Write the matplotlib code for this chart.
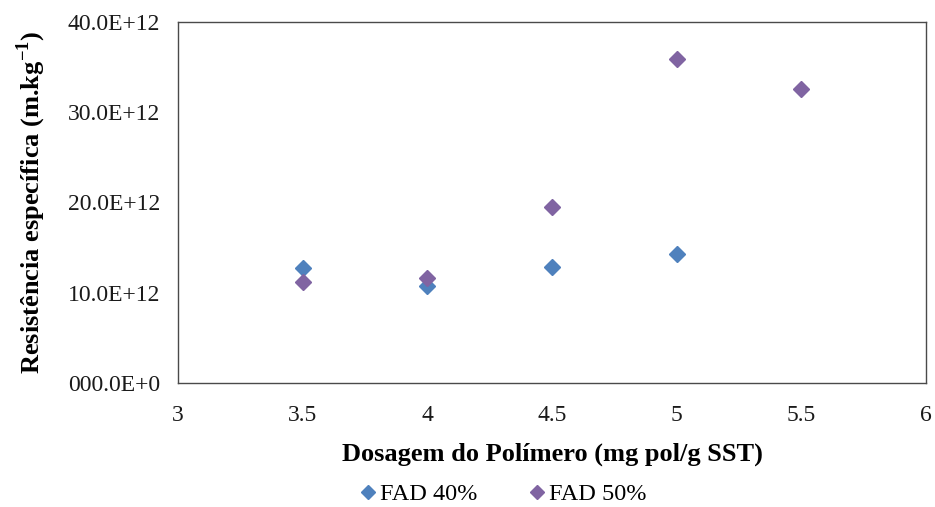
import matplotlib
matplotlib.use("Agg")
import matplotlib.pyplot as plt

plt.rcParams["font.family"] = ["Liberation Serif", "DejaVu Serif"]
plt.rcParams["mathtext.fontset"] = "custom"
plt.rcParams["mathtext.rm"] = "Liberation Serif:bold"
plt.rcParams["mathtext.bf"] = "Liberation Serif:bold"

# Dosage (mg pol/g SST) and specific resistance (m/kg)
dose_40 = [3.5, 4.0, 4.5, 5.0]
res_40 = [12.7e12, 10.8e12, 12.9e12, 14.3e12]
dose_50 = [3.5, 4.0, 4.5, 5.0, 5.5]
res_50 = [11.2e12, 11.6e12, 19.5e12, 35.9e12, 32.6e12]

x_ticks = [3, 3.5, 4, 4.5, 5, 5.5, 6]
x_tick_labels = ["3", "3.5", "4", "4.5", "5", "5.5", "6"]
y_ticks = [0, 10e12, 20e12, 30e12, 40e12]
y_tick_labels = ["000.0E+0", "10.0E+12", "20.0E+12", "30.0E+12", "40.0E+12"]

fig = plt.figure(figsize=(9.35, 5.07), dpi=100)
ax = fig.add_axes([0.1904, 0.2446, 0.8, 0.712])

ax.plot(dose_40, res_40, linestyle="none", marker="D", markersize=7.8,
        color="#4F81BD", label="FAD 40%")
ax.plot(dose_50, res_50, linestyle="none", marker="D", markersize=7.8,
        color="#8064A2", label="FAD 50%")

ax.set_xlim(3, 6)
ax.set_ylim(0, 40e12)
ax.set_xticks(x_ticks)
ax.set_xticklabels(x_tick_labels)
ax.set_yticks(y_ticks)
ax.set_yticklabels(y_tick_labels)
ax.tick_params(axis="both", length=0, labelsize=17, colors="#1a1a1a")
ax.tick_params(axis="x", pad=16)
ax.tick_params(axis="y", pad=13)
for sp in ax.spines.values():
    sp.set_color("#4a4a4a")
    sp.set_linewidth(1.0)

ax.set_xlabel("Dosagem do Polímero (mg pol/g SST)", fontsize=19,
              fontweight="bold", labelpad=12)
ax.set_ylabel(r"Resistência específica (m.kg$^{\mathbf{-1}}$)", fontsize=19,
              fontweight="bold", labelpad=14)

fig.legend(loc="center", bbox_to_anchor=(0.537, 0.025), ncol=2, frameon=False,
           fontsize=17.5, handletextpad=0.05, columnspacing=2.0, handlelength=0.9,
           markerscale=0.85)

fig.savefig("out.png", dpi=100)
